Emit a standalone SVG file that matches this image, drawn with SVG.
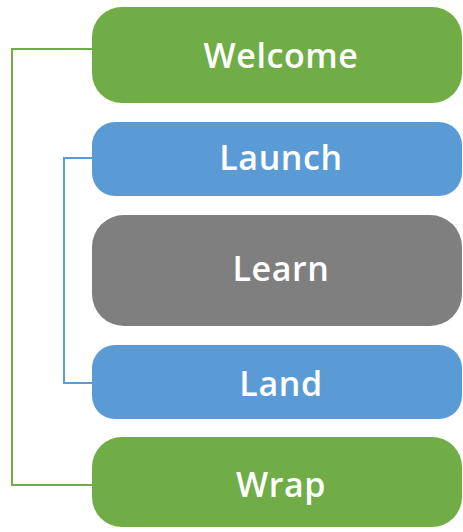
<svg xmlns="http://www.w3.org/2000/svg" width="463" height="532" viewBox="0 0 463 532">
<style>
.g{fill:#70AD47}
.b{fill:#5B9BD5}
.k{fill:#7F7F7F}
.t{fill:#fff;font-family:"Open Sans","Liberation Sans",sans-serif;font-weight:600;font-size:34px;letter-spacing:0.6px;text-anchor:middle}
.c{fill:none;stroke-width:2}
</style>
<rect width="463" height="532" fill="#fff"/>
<g id="connectors">
<polyline class="c" stroke="#70AD47" points="93,49 12,49 12,485 93,485"/>
<polyline class="c" stroke="#5B9BD5" points="93,158 64,158 64,383 93,383"/>
</g>
<g id="welcome"><rect class="g" x="92" y="7" width="370" height="96" rx="30"/><text class="t" x="281" y="68">Welcome</text></g>
<g id="launch"><rect class="b" x="92" y="122" width="370" height="74" rx="23"/><text class="t" x="281" y="170">Launch</text></g>
<g id="learn"><rect class="k" x="92" y="215" width="370" height="111" rx="32"/><text class="t" x="281" y="281">Learn</text></g>
<g id="land"><rect class="b" x="92" y="345" width="370" height="74" rx="23"/><text class="t" x="281" y="396">Land</text></g>
<g id="wrap"><rect class="g" x="92" y="437" width="370" height="90" rx="30"/><text class="t" x="281" y="497">Wrap</text></g>
</svg>
